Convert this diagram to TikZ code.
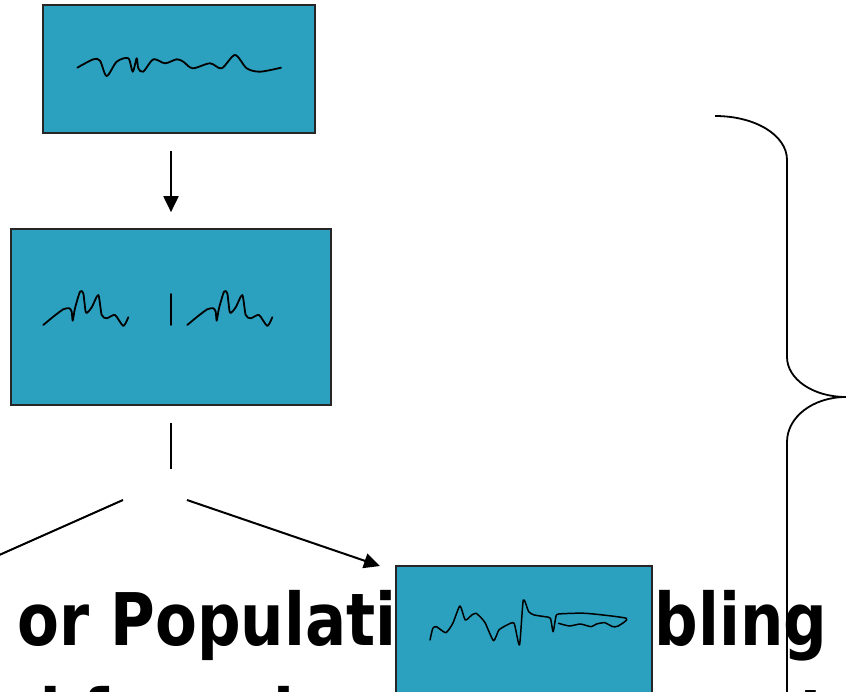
\documentclass[tikz,border=0pt]{standalone}
\usepackage{fontspec}
\usepackage{graphicx}
\newfontfamily\titlefont{DejaVu Sans}
\usetikzlibrary{arrows.meta,calc}
\definecolor{boxteal}{RGB}{44,161,191}
\begin{document}
\begin{tikzpicture}[x=1pt,y=-1pt,
  panel/.style={draw=black!85, line width=1.7pt, fill=boxteal, inner sep=0pt},
  wave/.style={line width=1.8pt, line cap=round, line join=round},
  conn/.style={line width=2pt},
  tip/.style={-{Triangle[length=16pt,width=15pt]}},
  bracepath/.style={line width=1.8pt},
  big/.style={anchor=base west, inner sep=0pt, font=\titlefont\bfseries\fontsize{61pt}{61pt}\selectfont}]
\useasboundingbox (0,0) rectangle (846,692);
\clip (0,0) rectangle (846,692);

% boxes
\node[panel, minimum width=272pt, minimum height=128pt] (top) at (179,69) {};
\node[panel, minimum width=320pt, minimum height=176pt] (mid) at (171,317) {};

% text lines
\node[big] (line1) at (17,645) {\scalebox{1}[1.19]{or Population\hspace{37pt}Doubling}};
\node[big] (line2) at (17,741) {\scalebox{1}[1.19]{d for role as an area a test}};

\node[panel, minimum width=256pt, minimum height=176pt, anchor=north west] (low) at (395,565) {};

% squiggle in top box
\draw[wave] plot[smooth, tension=0.5] coordinates {(77.3,67.7) (93.3,59.3) (100,60.7) (106.7,76) (116.7,61.7) (128.3,58.3) (132.7,71.7) (136.7,58.3) (138.3,68.3) (143.3,71.7) (153.3,59.3) (165,63.3) (176.7,59.3) (183.3,61.7) (192.7,68.3) (210,63.3) (221.7,68.3) (235,55) (246.7,68.3) (260,71.7) (281,67.7)};

% squiggles in middle box
\draw[wave] plot[smooth, tension=0.4] coordinates {(43.3,325) (53.3,316.7) (63.3,309.3) (69.3,308.3) (71.7,311.7) (72.7,320.7) (75,308.3) (80,291.7) (83.3,293.3) (86,312.7) (91.7,307.3) (98.3,295) (101.7,315) (106.7,318.3) (115,315) (123.3,326) (128.3,317.3)};
\draw[wave] (171,294) -- (171,325);
\draw[wave, xshift=144pt] plot[smooth, tension=0.4] coordinates {(43.3,325) (53.3,316.7) (63.3,309.3) (69.3,308.3) (71.7,311.7) (72.7,320.7) (75,308.3) (80,291.7) (83.3,293.3) (86,312.7) (91.7,307.3) (98.3,295) (101.7,315) (106.7,318.3) (115,315) (123.3,326) (128.3,317.3)};

% squiggle in low box
\draw[wave, line width=1.5pt] plot[smooth, tension=0.35] coordinates {(430,640) (432.8,628.3) (436.5,626.7) (445.8,632.7) (452.8,623.3) (459.9,606) (465.3,620) (471.8,615) (476.1,613.3) (481.6,618.3) (485.4,623.3) (493.5,640.7) (498.9,630) (507,625) (514.1,623.3) (519.5,645) (523.3,600) (528.7,611.7) (534.2,615) (545,616.7) (550.4,618.3) (553.1,631.7) (555.9,616.7) (558.6,614) (585.7,613.3) (626.4,618.3) (618.2,626) (612.8,626.7) (604.7,622.7) (596.5,624) (591.1,626.7) (580.3,624) (569.4,626) (558.6,623.3)};

% connectors
\coordinate (a1s) at ($(mid.north |- top.south)+(0,17)$);
\coordinate (a1e) at ($(mid.north)+(0,-16)$);
\draw[conn, tip] (a1s) -- (a1e);
\coordinate (l1s) at ($(mid.south)+(0,17)$);
\coordinate (fork) at ($(mid.south)+(0,63)$);
\draw[conn] (l1s) -- (fork);
\coordinate (ls) at (123,500);
\coordinate (lend) at (-30,568);
\draw[conn] (ls) -- (lend);
\coordinate (rs) at (187,500);
\coordinate (rtip) at (380,566);
\draw[conn, tip] (rs) -- (rtip);

% brace
\draw[bracepath] (715,116) .. controls (755,116) and (787,135) .. (787,160) -- (787,357) .. controls (787,379) and (813,397) .. (846,397) .. controls (813,397) and (787,417) .. (787,442) -- (787,700);
\end{tikzpicture}
\end{document}
